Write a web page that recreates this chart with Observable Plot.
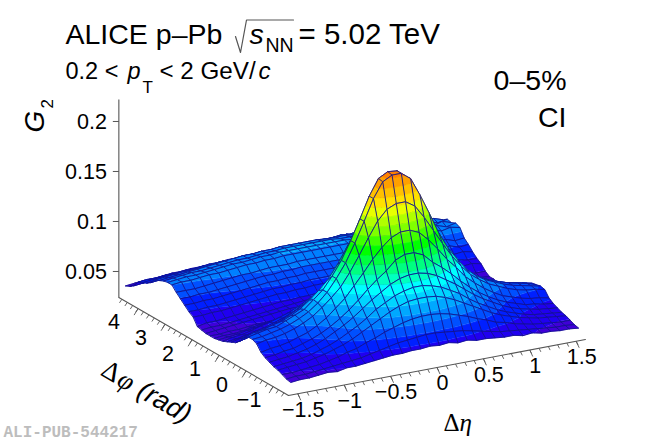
<!DOCTYPE html>
<html><head><meta charset="utf-8">
<script src="https://cdn.jsdelivr.net/npm/d3@7"></script>
<script src="https://cdn.jsdelivr.net/npm/@observablehq/plot@0.6"></script>
<style>html,body{margin:0;padding:0;background:#fff}svg{display:block}</style>
</head><body><div id="chart"></div>
<script>
// G2 x 1000; rows = dphi bins from -pi/2 upward, columns = deta bins -1.55..1.55
const etaCenters = [-1.55,-1.45,-1.35,-1.25,-1.15,-1.05,-.95,-.85,-.75,-.65,-.55,-.45,-.35,-.25,-.15,-.05,.05,.15,.25,.35,.45,.55,.65,.75,.85,.95,1.05,1.15,1.25,1.35,1.45,1.55];
const phiCount = 40;
const g2Rows = [
[35,36,36,37,38,37,39,39,40,41,42,43,43,44,44,45,44,45,43,44,42,42,41,40,40,38,39,37,37,36,36,35],
[36,37,37,38,39,40,41,42,43,45,47,49,51,52,53,54,54,53,52,51,49,47,45,43,42,41,40,39,38,37,37,36],
[38,38,39,40,41,43,45,48,50,54,57,61,64,67,69,70,70,69,67,64,61,57,54,50,48,45,43,41,40,39,38,38],
[40,41,42,43,45,47,50,53,57,62,67,72,77,81,84,85,85,84,81,77,72,67,62,57,53,50,47,45,43,42,41,40],
[41,42,43,44,46,49,52,56,61,66,72,79,84,89,92,94,94,92,89,84,79,72,66,61,56,52,49,46,44,43,42,41],
[43,44,45,47,49,52,56,61,66,72,79,86,92,98,102,104,104,102,98,92,86,79,72,66,61,56,52,49,47,45,44,43],
[45,46,48,49,52,55,59,64,70,77,85,94,102,109,118,122,122,118,109,102,94,85,77,70,64,59,55,52,49,48,46,45],
[48,50,51,53,56,59,64,70,78,86,97,108,120,130,138,142,142,138,129,118,106,96,85,77,70,64,59,56,53,51,50,48],
[54,56,57,59,62,66,71,78,86,95,108,123,139,154,164,168,168,162,149,134,119,105,93,83,76,70,66,62,59,57,56,54],
[56,57,59,61,64,68,73,80,89,101,115,133,153,174,189,194,194,187,169,149,128,111,98,86,78,72,68,64,61,59,57,55],
[56,58,60,61,65,69,73,81,89,101,115,133,153,174,190,195,194,186,169,148,127,110,97,86,77,72,67,64,61,59,57,54],
[53,56,57,60,62,66,71,78,86,95,108,123,139,154,164,169,168,162,149,134,119,105,93,82,76,70,66,62,59,57,55,53],
[47,50,52,53,56,59,64,70,78,86,97,108,120,130,138,142,142,138,129,118,106,96,85,77,70,64,59,56,53,51,49,47],
[43,45,47,49,52,55,59,64,70,77,85,94,102,109,118,122,122,118,109,102,94,85,77,70,64,59,55,52,49,47,45,44],
[41,43,45,47,49,52,56,61,66,72,79,86,92,98,102,104,104,102,98,92,86,79,72,66,61,56,52,49,47,45,43,42],
[39,40,42,44,46,49,52,56,61,66,72,79,84,89,92,94,94,92,89,84,79,72,66,61,56,52,49,46,44,43,41,40],
[37,39,40,42,45,47,50,53,57,62,67,72,77,81,84,85,85,84,81,77,72,67,62,57,53,50,47,45,43,41,40,38],
[36,37,38,40,41,43,45,48,50,54,57,61,64,67,69,70,70,69,67,64,61,57,54,50,48,45,43,41,40,39,37,37],
[35,36,36,37,39,40,41,42,43,45,47,49,51,52,53,54,54,53,52,51,49,47,45,43,42,41,40,39,38,37,36,35],
[35,35,36,36,37,38,38,39,40,41,42,42,43,43,44,44,44,44,43,43,42,42,41,40,39,38,38,37,36,36,35,34],
[35,36,37,38,39,40,41,42,43,44,44,45,45,46,46,46,46,46,46,45,45,44,44,43,42,41,40,39,38,37,36,35],
[36,37,37,38,39,40,41,42,43,44,45,46,46,47,47,47,47,47,47,46,46,45,44,43,42,41,40,39,38,37,36,35],
[37,39,39,40,41,42,43,44,45,46,46,47,47,48,48,48,48,48,48,47,47,46,46,45,44,43,42,41,41,39,38,38],
[44,44,45,45,46,47,48,49,50,51,51,52,52,53,53,53,53,53,53,52,52,51,51,50,49,48,47,46,46,44,45,43],
[47,47,48,48,49,50,51,52,53,54,54,55,55,56,56,56,56,56,56,55,55,54,54,53,52,51,50,50,48,48,46,46],
[51,51,52,52,53,54,55,56,57,58,58,59,59,60,60,60,60,60,60,59,59,58,58,57,56,55,55,53,53,51,52,50],
[55,55,56,56,57,58,59,60,61,62,62,63,63,64,64,64,64,64,64,63,63,62,62,61,60,60,58,58,56,57,54,55],
[59,59,59,60,61,62,63,64,64,65,66,66,66,67,67,67,67,67,67,66,66,66,65,64,64,64,62,62,60,61,58,59],
[64,65,65,66,67,67,68,69,70,70,71,71,72,72,72,72,72,72,72,72,71,71,71,70,71,69,70,68,70,67,69,67],
[64,65,66,66,67,68,69,70,70,71,72,72,73,73,73,73,73,73,73,73,72,72,72,71,71,71,69,70,68,70,67,69],
[63,64,65,66,66,67,68,69,70,70,71,72,72,73,73,73,73,73,73,72,72,72,71,72,70,70,71,68,70,67,70,67],
[61,62,63,64,65,66,67,68,69,70,70,71,71,72,72,72,72,72,71,71,71,70,71,69,70,68,69,69,67,69,66,68],
[59,60,61,62,62,63,64,65,65,66,66,67,67,68,68,68,68,68,68,68,69,67,69,67,69,67,68,66,69,66,68,65],
[54,55,56,57,57,58,59,59,60,61,61,62,62,63,63,63,63,63,64,64,65,64,66,64,66,64,66,64,66,63,65,61],
[51,52,53,54,54,55,56,56,57,58,58,59,59,60,60,60,60,60,60,61,61,62,61,63,61,63,61,62,60,61,59,59],
[49,50,51,51,52,53,53,54,54,55,55,56,56,57,57,57,57,57,57,58,58,58,59,57,59,57,59,56,58,55,56,53],
[47,48,48,49,49,50,50,51,51,52,52,53,53,54,54,54,54,54,54,54,54,55,53,55,53,55,53,54,52,53,50,51],
[41,42,43,43,44,44,45,45,46,46,47,47,47,48,48,48,48,48,48,48,48,48,48,47,48,46,47,45,46,44,45,42],
[38,39,40,40,41,42,42,43,43,44,44,45,45,45,46,46,46,46,46,45,45,45,46,44,45,43,44,42,43,41,42,39],
[36,37,38,38,39,40,40,41,41,42,42,43,43,44,44,44,44,44,44,43,43,43,42,43,41,42,40,41,38,40,37,38]
];
const bandEdges = [30,38.5,47,55.5,64,72.5,81,89.5,98,106.5,115,123.5,132,140.5,149,157.5,166,174.5,183,191.5,200.5];
const bandColors = ["#4000d8","#2000f0","#0020ff","#0050ff","#0080ff","#00a8ff","#00d4ff","#00ffff","#00ffc0","#00ff80","#00ff40","#00ff00","#40ff00","#80ff00","#b0ff00","#e8ff00","#ffe000","#ffc000","#ffa000","#ff8000"];
const zTicks = [0.05,0.1,0.15,0.2];
const zTickLabels = ["0.05","0.1","0.15","0.2"];
const etaTicks = [-1.5,-1,-0.5,0,0.5,1,1.5];
const etaTickLabels = ["−1.5","−1","−0.5","0","0.5","1","1.5"];
const phiTicks = [-1,0,1,2,3,4];
const phiTickLabels = ["−1","0","1","2","3","4"];

// oblique view of (deta, dphi, G2) on to the plane of the page
const etaMin=-1.6, etaMax=1.6, phiMin=-Math.PI/2, phiMax=3*Math.PI/2, zFloor=0.024, zTop=0.222;
const vx = (e,p)=>288+92.8*(e-etaMin)-27*(p-phiMin);
const vy = (e,p,z)=>395-17.5*(e-etaMin)-15.6*(p-phiMin)-(z-zFloor)*1000;

const phiCenters = d3.range(phiCount).map(i=>phiMin+(i+.5)*2*Math.PI/phiCount);

function cut(poly, level, keepAbove){
  const out=[];
  for(let k=0;k<poly.length;k++){
    const a=poly[k], b=poly[(k+1)%poly.length];
    const ia = keepAbove ? a.g>=level : a.g<=level;
    const ib = keepAbove ? b.g>=level : b.g<=level;
    if(ia) out.push(a);
    if(ia!==ib){
      const t=(level-a.g)/(b.g-a.g);
      out.push({e:a.e+t*(b.e-a.e),p:a.p+t*(b.p-a.p),g:level});
    }
  }
  return out;
}
const pieces=[]; let pid=0;
function addPoly(poly,f,s,w){
  pid++;
  for(const v of poly) pieces.push({id:pid,x:vx(v.e,v.p),y:vy(v.e,v.p,v.g/1000),f,s,w});
}
for(let i=phiCount-2;i>=0;i--){
  for(let j=etaCenters.length-2;j>=0;j--){
    const v=(a,b)=>({e:etaCenters[b],p:phiCenters[a],g:g2Rows[a][b]});
    const cell=[v(i,j),v(i,j+1),v(i+1,j+1),v(i+1,j)];
    bandColors.forEach((c,k)=>{
      let poly=cut(cell,bandEdges[k],true);
      if(poly.length) poly=cut(poly,bandEdges[k+1],false);
      if(poly.length>2) addPoly(poly,c,c,0.35);
    });
    addPoly(cell,"none","#10108c",0.85);
  }
}

const axisColor="#555";
const phiMinor=d3.range(-1.4,4.61,0.2), etaMinor=d3.range(-1.5,1.51,0.1);
const phiAxis=[{e:etaMin,p:phiMax},{e:etaMin,p:phiMin},{e:etaMax,p:phiMin}];
const txt=(t,x,y,o={})=>Plot.text([{t,x,y}],{x:"x",y:"y",text:"t",fontSize:20,fill:"#000",fontFamily:"Liberation Sans",lineAnchor:"bottom",textAnchor:"start",...o});
const sans=28.5, tickSize=21.5;
const sqrtX=[235,240,246,293], sqrtY=[36,52,19.5,19.5];

const plot=Plot.plot({
  width:650,height:440,margin:0,
  x:{domain:[0,650],range:[0,650],axis:null},
  y:{domain:[0,440],range:[0,440],axis:null},
  color:{type:"identity"},
  style:{background:"#fff"},
  marks:[
    // surface
    Plot.line(pieces,{x:"x",y:"y",z:"id",fill:"f",stroke:"s",strokeWidth:"w",curve:"linear-closed",strokeLinejoin:"round"}),
    // z axis
    Plot.link([0],{x1:()=>vx(etaMin,phiMax),x2:()=>vx(etaMin,phiMax),y1:()=>vy(etaMin,phiMax,zFloor),y2:()=>vy(etaMin,phiMax,zTop),stroke:axisColor,strokeWidth:1.1}),
    Plot.link(zTicks,{x1:()=>vx(etaMin,phiMax),x2:()=>vx(etaMin,phiMax)-6,y1:z=>vy(etaMin,phiMax,z),y2:z=>vy(etaMin,phiMax,z),stroke:axisColor,strokeWidth:1}),
    Plot.text(zTicks,{x:()=>vx(etaMin,phiMax)-12,y:z=>vy(etaMin,phiMax,z)+1,text:(d,i)=>zTickLabels[i],textAnchor:"end",fontSize:tickSize,fontFamily:"Liberation Sans",fill:"#000"}),
    // phi and eta axes
    Plot.line(phiAxis,{x:d=>vx(d.e,d.p),y:d=>vy(d.e,d.p,zFloor),stroke:axisColor,strokeWidth:1.1}),
    Plot.link(phiMinor,{x1:p=>vx(etaMin,p),y1:p=>vy(etaMin,p,zFloor),x2:p=>vx(etaMin,p)-2.4,y2:p=>vy(etaMin,p,zFloor)+3.6,stroke:axisColor,strokeWidth:.9}),
    Plot.link(phiTicks,{x1:p=>vx(etaMin,p),y1:p=>vy(etaMin,p,zFloor),x2:p=>vx(etaMin,p)-4,y2:p=>vy(etaMin,p,zFloor)+6.5,stroke:axisColor,strokeWidth:.9}),
    Plot.text(phiTicks,{x:p=>vx(etaMin,p)-24,y:p=>vy(etaMin,p,zFloor)+14,text:(d,i)=>phiTickLabels[i],fontSize:tickSize,fontFamily:"Liberation Sans",fill:"#000"}),
    Plot.link(etaMinor,{x1:e=>vx(e,phiMin),y1:e=>vy(e,phiMin,zFloor),x2:e=>vx(e,phiMin)+1.8,y2:e=>vy(e,phiMin,zFloor)+3.6,stroke:axisColor,strokeWidth:.9}),
    Plot.link(etaTicks,{x1:e=>vx(e,phiMin),y1:e=>vy(e,phiMin,zFloor),x2:e=>vx(e,phiMin)+3,y2:e=>vy(e,phiMin,zFloor)+6.5,stroke:axisColor,strokeWidth:.9}),
    Plot.text(etaTicks,{x:e=>vx(e,phiMin)+5.5,y:e=>vy(e,phiMin,zFloor)+16,text:(d,i)=>etaTickLabels[i],fontSize:tickSize,fontFamily:"Liberation Sans",fill:"#000"}),
    // header
    txt("ALICE p–Pb",65,43,{fontSize:sans}),
    Plot.line(sqrtX.map((x,i)=>({x,y:sqrtY[i]})),{x:"x",y:"y",stroke:"#555",strokeWidth:1.2}),
    txt("s",249,43,{fontSize:sans,fontStyle:"italic"}),
    txt("NN",265,51,{fontSize:19.5}),
    txt("= 5.02 TeV",298,43,{fontSize:29.5}),
    txt("0.2 <",65,78,{fontSize:23.5}),
    txt("p",127,78,{fontSize:23.5,fontStyle:"italic"}),
    txt("T",142,92,{fontSize:17}),
    txt("< 2 GeV/",159,78,{fontSize:24.2}),
    txt("c",258,78,{fontSize:24.2,fontStyle:"italic"}),
    txt("0–5%",566,89,{fontSize:sans,textAnchor:"end"}),
    txt("CI",566,126,{fontSize:sans,textAnchor:"end"}),
    // axis titles
    txt("G",43,132,{fontSize:28,fontStyle:"italic",rotate:-90}),
    txt("2",52,108,{fontSize:17,rotate:-90}),
    txt("Δ",443,430,{fontSize:25,fontFamily:"Liberation Serif"}),
    txt("η",459,430,{fontSize:25,fontFamily:"Liberation Serif",fontStyle:"italic"}),
    txt("Δ",99,374,{fontSize:27,fontFamily:"Liberation Serif",rotate:30}),
    txt("φ",115,384,{fontSize:27,fontFamily:"Liberation Serif",fontStyle:"italic",rotate:30}),
    txt("(rad)",135,395,{fontSize:27,fontFamily:"Liberation Sans",fontStyle:"italic",rotate:30}),
    // publication stamp
    txt("ALI-PUB-544217",3,436,{fontSize:16,fontFamily:"Liberation Mono",fontWeight:"bold",fill:"#bdbdbd"})
  ]
});
document.getElementById("chart").append(plot);
</script></body></html>
